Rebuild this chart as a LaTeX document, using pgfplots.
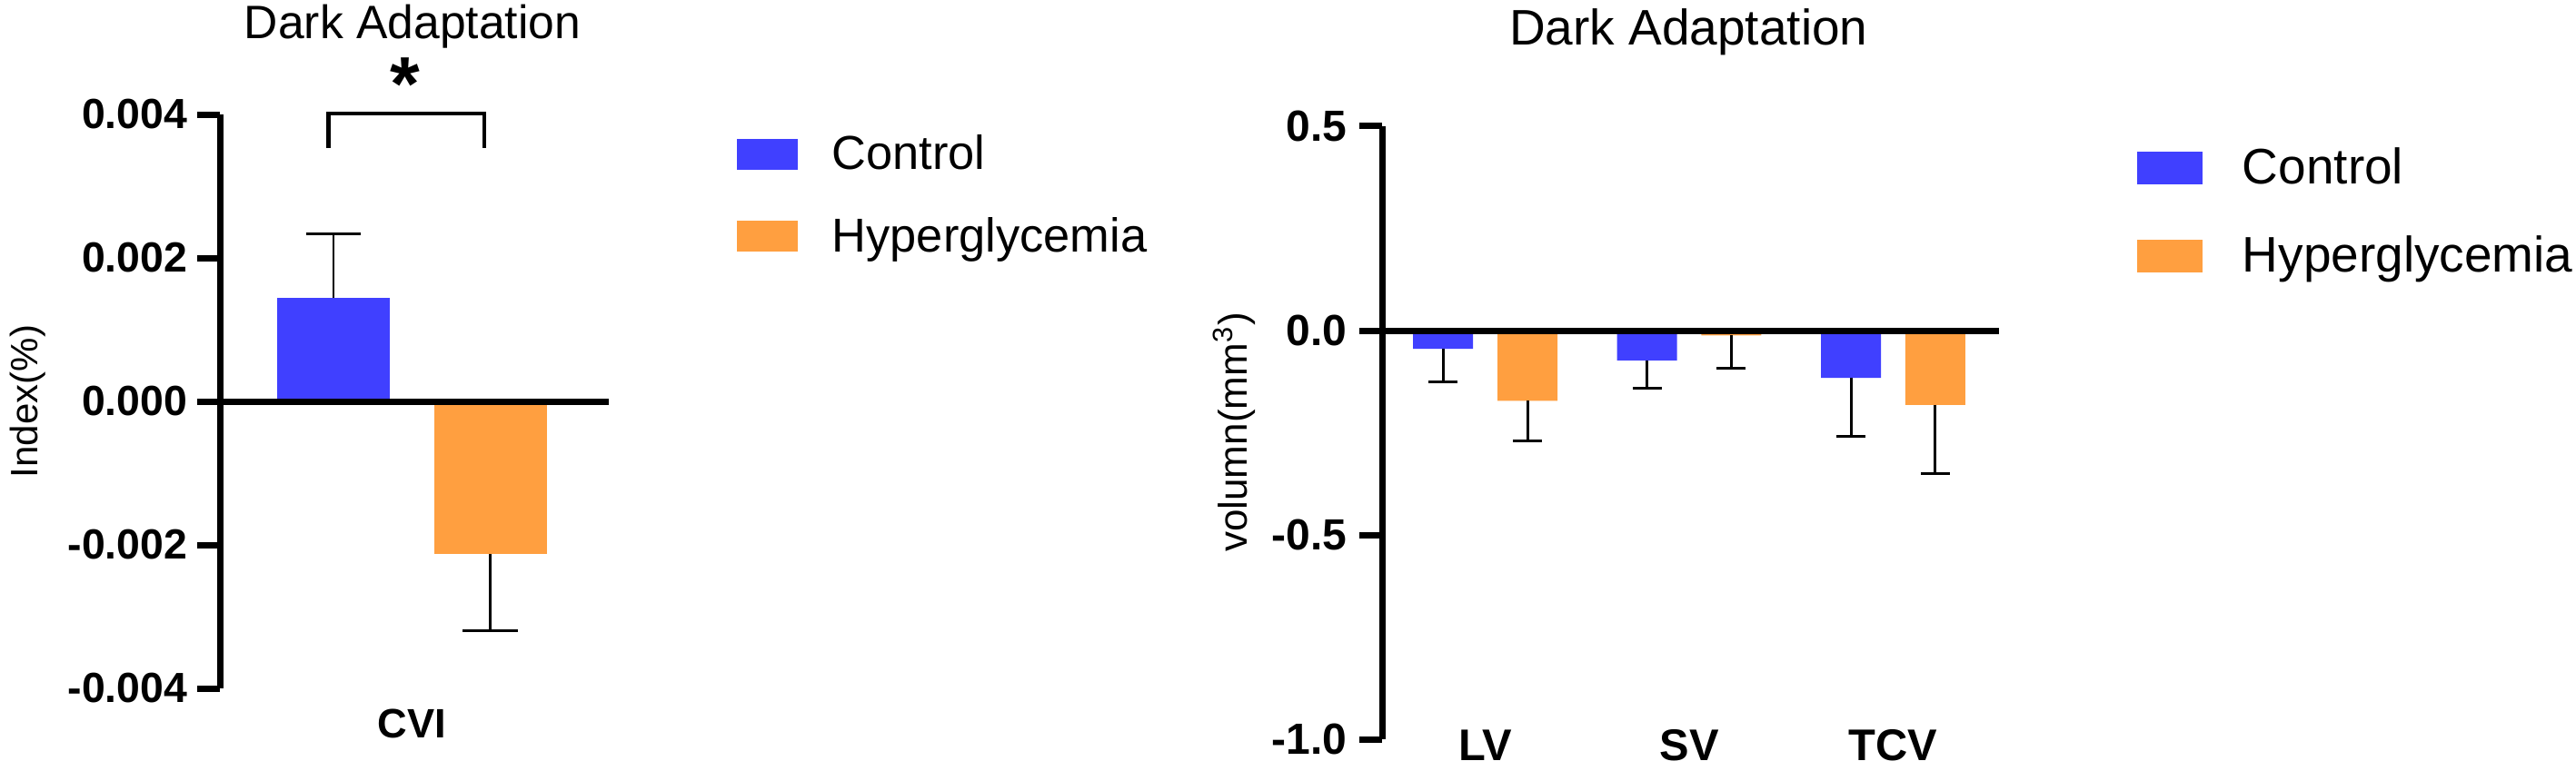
\documentclass[border=0pt]{standalone}
\usepackage{fontspec}
\setmainfont{Liberation Sans}
\usepackage{pgfplots}
\pgfplotsset{compat=1.18}
\definecolor{ctrl}{RGB}{64,64,255}
\definecolor{hyper}{RGB}{255,159,64}
\newcommand\fs[1]{\fontsize{#1}{#1}\selectfont}

\pgfplotsset{
  legsqL/.style={legend image code/.code={\fill[##1] (0pt,0pt) rectangle (16.75pt,8.5pt);}},
  legsqR/.style={legend image code/.code={\fill[##1] (0pt,0pt) rectangle (18pt,9pt);}},
  prism/.style={
    scale only axis, axis on top,
    axis x line*=bottom, axis y line*=left,
    x axis line style={draw=none},
    y axis line style={line width=1.75pt, -},
    xtick style={draw=none},
    ytick style={line width=1.75pt, black},
    tick align=outside, major tick length=6.25pt,
    scaled y ticks=false,
    extra y ticks={0}, extra y tick labels={},
    extra y tick style={grid=major, major grid style={line width=1.75pt, black}},
    ybar,
    legend style={draw=none, fill=none, inner sep=0pt, anchor=north west,
      cells={anchor=base west}, nodes={inner sep=0pt}},
  },
}

\begin{document}
\begin{tikzpicture}
\useasboundingbox (0,0) rectangle (708.75pt,212pt);

% ---------------- left panel ----------------
\begin{axis}[prism,
  at={(60.5pt,22.5pt)}, anchor=south west,
  width=107pt, height=158pt,
  xmin=-0.494, xmax=0.506, ymin=-0.004, ymax=0.004,
  bar width=31pt,
  ytick={-0.004,-0.002,0,0.002,0.004},
  yticklabels={-0.004,-0.002,0.000,0.002,0.004},
  yticklabel style={font=\bfseries\fs{11.6}, anchor=east, inner sep=0pt, xshift=-2.5pt},
  xtick={0}, xticklabels={CVI},
  xticklabel style={font=\bfseries\fs{11.3}, anchor=base, inner sep=0pt, yshift=-7.3pt},
  legend style={at={(axis description cs:1.327,0.965)}, font=\fs{13.1},
    row sep=11.6pt, column sep=9.5pt},
]
\addplot[fill=ctrl, draw=none, bar shift=-21.6pt, legsqL,
  error bars/.cd, y dir=plus, y explicit, error mark=|,
  error bar style={draw=black, line width=0.7pt},
  error mark options={draw=black, line width=0.7pt, mark size=7.6pt}]
  coordinates {(0,0.00144) +- (0,0.00090)};
\addlegendentry{Control}
\addplot[fill=hyper, draw=none, bar shift=21.6pt, legsqL,
  error bars/.cd, y dir=minus, y explicit, error mark=|,
  error bar style={draw=black, line width=0.7pt},
  error mark options={draw=black, line width=0.7pt, mark size=7.6pt}]
  coordinates {(0,-0.00213) +- (0,0.00107)};
\addlegendentry{Hyperglycemia}
\end{axis}

\node[anchor=base, font=\fs{12.9}] at (113.5pt,201.25pt) {Dark Adaptation};
\node[rotate=90, anchor=base, font=\fs{10.5}] at (10.25pt,101.5pt) {Index(\%)};
\draw[line width=1.2pt, line join=miter] (90.4pt,171.25pt) -- (90.4pt,180.75pt) -- (133.25pt,180.75pt) -- (133.25pt,171.25pt);
\node[anchor=base, font=\bfseries\fs{21}, inner sep=0pt] at (111.5pt,181.75pt) {*};

% ---------------- right panel ----------------
\begin{axis}[prism,
  at={(380.25pt,8.5pt)}, anchor=south west,
  width=169.75pt, height=168.75pt,
  xmin=-0.506, xmax=2.519, ymin=-1, ymax=0.5,
  bar width=16.5pt,
  ytick={-1,-0.5,0,0.5},
  yticklabels={-1.0,-0.5,0.0,0.5},
  yticklabel style={font=\bfseries\fs{12}, anchor=east, inner sep=0pt, xshift=-3.25pt},
  xtick={0,1,2}, xticklabels={LV,SV,TCV},
  xticklabel style={font=\bfseries\fs{12.2}, anchor=base, inner sep=0pt, yshift=0.45pt},
  legend style={at={(axis description cs:1.2224,0.966)}, font=\fs{13.75},
    row sep=12.8pt, column sep=11pt},
]
\addplot[fill=ctrl, draw=none, bar shift=-11.6pt, legsqR,
  error bars/.cd, y dir=minus, y explicit, error mark=|,
  error bar style={draw=black, line width=0.75pt},
  error mark options={draw=black, line width=0.75pt, mark size=4pt}]
  coordinates {(0,-0.0445) +- (0,0.0815) (1,-0.073) +- (0,0.067) (2,-0.116) +- (0,0.143)};
\addlegendentry{Control}
\addplot[fill=hyper, draw=none, bar shift=11.6pt, legsqR,
  error bars/.cd, y dir=minus, y explicit, error mark=|,
  error bar style={draw=black, line width=0.75pt},
  error mark options={draw=black, line width=0.75pt, mark size=4pt}]
  coordinates {(0,-0.172) +- (0,0.097) (1,-0.012) +- (0,0.081) (2,-0.182) +- (0,0.168)};
\addlegendentry{Hyperglycemia}
\end{axis}

\node[anchor=base, font=\fs{13.75}] at (464.6pt,199.7pt) {Dark Adaptation};
\node[rotate=90, anchor=base, font=\fs{11}] at (343pt,93pt) {volumn(mm\textsuperscript{3})};
\end{tikzpicture}
\end{document}
